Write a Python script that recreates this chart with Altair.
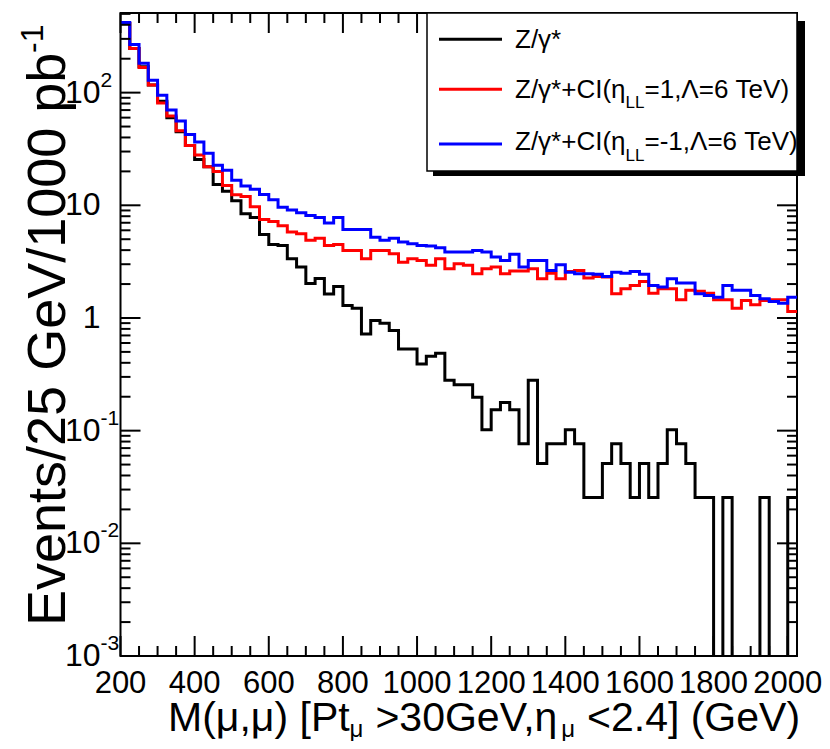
import altair as alt
import pandas as pd

# ---------------- data ----------------
bin_start = 200      # GeV, lower edge of first bin
bin_width = 25       # GeV
x_max = 2025         # upper edge of last bin
y_min, y_max = 1e-3, 509

series_names = ["Z/γ*", "Z/γ*+CI(η_LL=1,Λ=6 TeV)", "Z/γ*+CI(η_LL=-1,Λ=6 TeV)"]
series_colors = ["#000000", "#ff0000", "#0000ff"]

z_gamma = [410, 247, 170, 117, 84, 60, 45, 34, 25.5, 22, 15.3, 13.3, 11.0, 8.4, 7.8,
           5.5, 4.5, 4.4, 3.36, 2.83, 2.02, 2.24, 1.63, 1.9, 1.29, 1.22, 0.72, 0.95,
           0.90, 0.775, 0.53, 0.53, 0.39, 0.457, 0.487, 0.28, 0.256, 0.256, 0.198,
           0.102, 0.153, 0.178, 0.153, 0.0765, 0.28, 0.051, 0.0765, 0.0765, 0.102,
           0.0765, 0.0255, 0.0255, 0.051, 0.0765, 0.051, 0.0255, 0.051, 0.0255, 0.051,
           0.102, 0.0765, 0.051, 0.0255, 0.0255, 0, 0.0255, 0, 0, 0, 0.0255, 0, 0, 0.0255]

ci_plus = [410, 247, 167, 117, 81, 62, 46, 34, 28, 22, 20, 15, 12.4, 12.0, 9.7, 7.5,
           7.2, 6.6, 5.8, 5.6, 4.9, 5.1, 4.4, 4.5, 3.98, 3.98, 3.36, 3.98, 3.98, 3.72,
           3.13, 3.36, 3.24, 2.93, 3.36, 2.74, 3.03, 2.93, 2.47, 2.74, 2.83, 2.47, 2.61,
           2.61, 2.74, 2.23, 2.5, 2.23, 2.59, 2.64, 2.26, 2.34, 2.31, 1.64, 1.82, 1.94,
           2.11, 1.66, 1.82, 1.82, 1.45, 1.76, 1.73, 1.66, 1.45, 1.45, 1.22, 1.43, 1.31,
           1.43, 1.45, 1.45, 1.14]

ci_minus = [420, 268, 182, 129, 95, 70, 56, 42.5, 36.5, 29, 22.7, 20.5, 16.7, 14.8, 13.9,
            12.5, 11.2, 9.6, 9.1, 8.6, 8.1, 7.8, 6.95, 7.8, 6.1, 6.1, 6.1, 5.2, 4.9, 5.1,
            4.72, 4.56, 4.4, 4.35, 4.2, 3.85, 3.85, 3.85, 3.98, 3.85, 3.47, 3.24, 3.67,
            2.83, 3.24, 3.24, 2.64, 2.97, 2.55, 2.47, 2.47, 2.44, 2.34, 2.55, 2.5, 2.59,
            2.44, 1.94, 1.88, 2.23, 2.04, 2.04, 1.64, 1.58, 1.53, 1.94, 1.76, 1.76, 1.58,
            1.48, 1.40, 1.35, 1.53]

x_label_values = [200, 400, 600, 800, 1000, 1200, 1400, 1600, 1800, 2000]
x_label_texts = ["200", "400", "600", "800", "1000", "1200", "1400", "1600", "1800", "2000"]
x_minor_values = [v for v in range(250, 2001, 50) if v % 200 != 0]
y_label_values = [0.001, 0.01, 0.1, 1, 10, 100]
y_label_base = ["10", "10", "10", "1", "10", "10"]
y_label_exp = ["-3", "-2", "-1", "", "", "2"]
y_minor_values = [k * d for d in [0.001, 0.01, 0.1, 1, 10, 100] for k in range(2, 10)
                  if k * d <= 500]

# ---------------- layout ----------------
W, H = 676.5, 643
FONT = "Liberation Sans"

xscale = alt.Scale(domain=[bin_start, x_max], nice=False, zero=False)
yscale = alt.Scale(type="log", domain=[y_min, y_max], nice=False)

def hist_frame(vals, name):
    xs = [bin_start + bin_width * i for i in range(len(vals))] + [x_max]
    ys = list(vals) + [vals[-1]]
    ys = [v if v > 0 else 1e-6 for v in ys]
    return pd.DataFrame({"x": xs, "y": ys, "series": name})

layers = []
for vals, name, col in zip([z_gamma, ci_plus, ci_minus], series_names, series_colors):
    layers.append(
        alt.Chart(hist_frame(vals, name)).mark_line(
            interpolate="step-after", strokeWidth=3, color=col, clip=True)
        .encode(x=alt.X("x:Q", scale=xscale, axis=None),
                y=alt.Y("y:Q", scale=yscale, axis=None))
    )

# inward ticks on all four sides
def xticks(values, length):
    df = pd.DataFrame({"x": values})
    base = alt.Chart(df).mark_rule(color="black", strokeWidth=2)
    bottom = base.encode(x=alt.X("x:Q", scale=xscale, axis=None),
                         y=alt.value(H), y2=alt.value(H - length))
    top = base.encode(x=alt.X("x:Q", scale=xscale, axis=None),
                      y=alt.value(0), y2=alt.value(length))
    return [bottom, top]

def yticks(values, length):
    df = pd.DataFrame({"y": values})
    base = alt.Chart(df).mark_rule(color="black", strokeWidth=2)
    left = base.encode(y=alt.Y("y:Q", scale=yscale, axis=None),
                       x=alt.value(0), x2=alt.value(length))
    right = base.encode(y=alt.Y("y:Q", scale=yscale, axis=None),
                        x=alt.value(W - length), x2=alt.value(W))
    return [left, right]

layers += xticks(x_label_values, 20) + xticks(x_minor_values, 10)
layers += yticks(y_label_values, 20) + yticks(y_minor_values, 10)

# tick labels (ROOT style, drawn through the scales)
layers.append(
    alt.Chart(pd.DataFrame({"x": x_label_values, "t": x_label_texts})).mark_text(
        align="center", baseline="alphabetic", font=FONT, fontSize=31, color="black")
    .encode(x=alt.X("x:Q", scale=xscale, axis=None), y=alt.value(H + 37), text="t:N"))
ylab = pd.DataFrame({"y": y_label_values, "b": y_label_base, "e": y_label_exp})
layers.append(
    alt.Chart(ylab).mark_text(align="right", baseline="middle", font=FONT, fontSize=32,
                              color="black")
    .encode(y=alt.Y("y:Q", scale=yscale, axis=None), x=alt.value(-20), text="b:N"))
layers.append(
    alt.Chart(ylab).mark_text(align="left", baseline="middle", font=FONT, fontSize=21,
                              color="black", dy=-12)
    .encode(y=alt.Y("y:Q", scale=yscale, axis=None), x=alt.value(-20), text="e:N"))

one = pd.DataFrame({"k": [0]})

def text(t, x, y, size, angle=0):
    return alt.Chart(pd.DataFrame({"t": [t]})).mark_text(
        align="left", baseline="alphabetic", font=FONT, fontSize=size, color="black",
        angle=angle).encode(x=alt.value(x), y=alt.value(y), text="t:N")

# legend: shadow, box, samples, texts
layers.append(alt.Chart(one).mark_rect(color="black").encode(
    x=alt.value(312.5), x2=alt.value(684.5), y=alt.value(8), y2=alt.value(163)))
layers.append(alt.Chart(one).mark_rect(fill="white", stroke="black", strokeWidth=1.5).encode(
    x=alt.value(306.5), x2=alt.value(676.5), y=alt.value(0), y2=alt.value(158)))
for yy, col in zip([26.3, 76.3, 131], series_colors):
    layers.append(alt.Chart(one).mark_rule(color=col, strokeWidth=3).encode(
        x=alt.value(318.5), x2=alt.value(381.5), y=alt.value(yy)))

LF, LS = 26, 17
layers.append(text("Z/γ*", 394.5, 35, LF))
layers.append(text("Z/γ*+CI(η", 394.5, 85, LF))
layers.append(text("LL", 505, 95, LS))
layers.append(text("=1,Λ=6 TeV)", 524, 85, LF))
layers.append(text("Z/γ*+CI(η", 394.5, 137, LF))
layers.append(text("LL", 505, 147.5, LS))
layers.append(text("=-1,Λ=6 TeV)", 524, 137, LF))

# x title with subscripts (space width at 41px = 11.4)
layers.append(text("M(μ,μ) [Pt", 47.5, 718, 41))
layers.append(text("μ", 229.1, 724, 24))
layers.append(text(">30GeV,η", 254.9, 718, 41))
layers.append(text("μ", 440.7, 724, 24))
layers.append(text("<2.4] (GeV)", 466.5, 718, 41))

# y title with superscript
layers.append(text("Events/25 GeV/1000 pb", -55.5, 613, 54, angle=270))
layers.append(text("-1", -78, 40, 32, angle=270))

chart = alt.layer(*layers).properties(
    width=W, height=H,
    autosize=alt.AutoSizeParams(type="none"),
    padding={"left": 112.5, "top": 5, "right": 25, "bottom": 85},
).configure(background="white").configure_view(stroke="black", strokeWidth=2)

chart.save("out.html", embed_options={"renderer": "svg", "actions": False})
